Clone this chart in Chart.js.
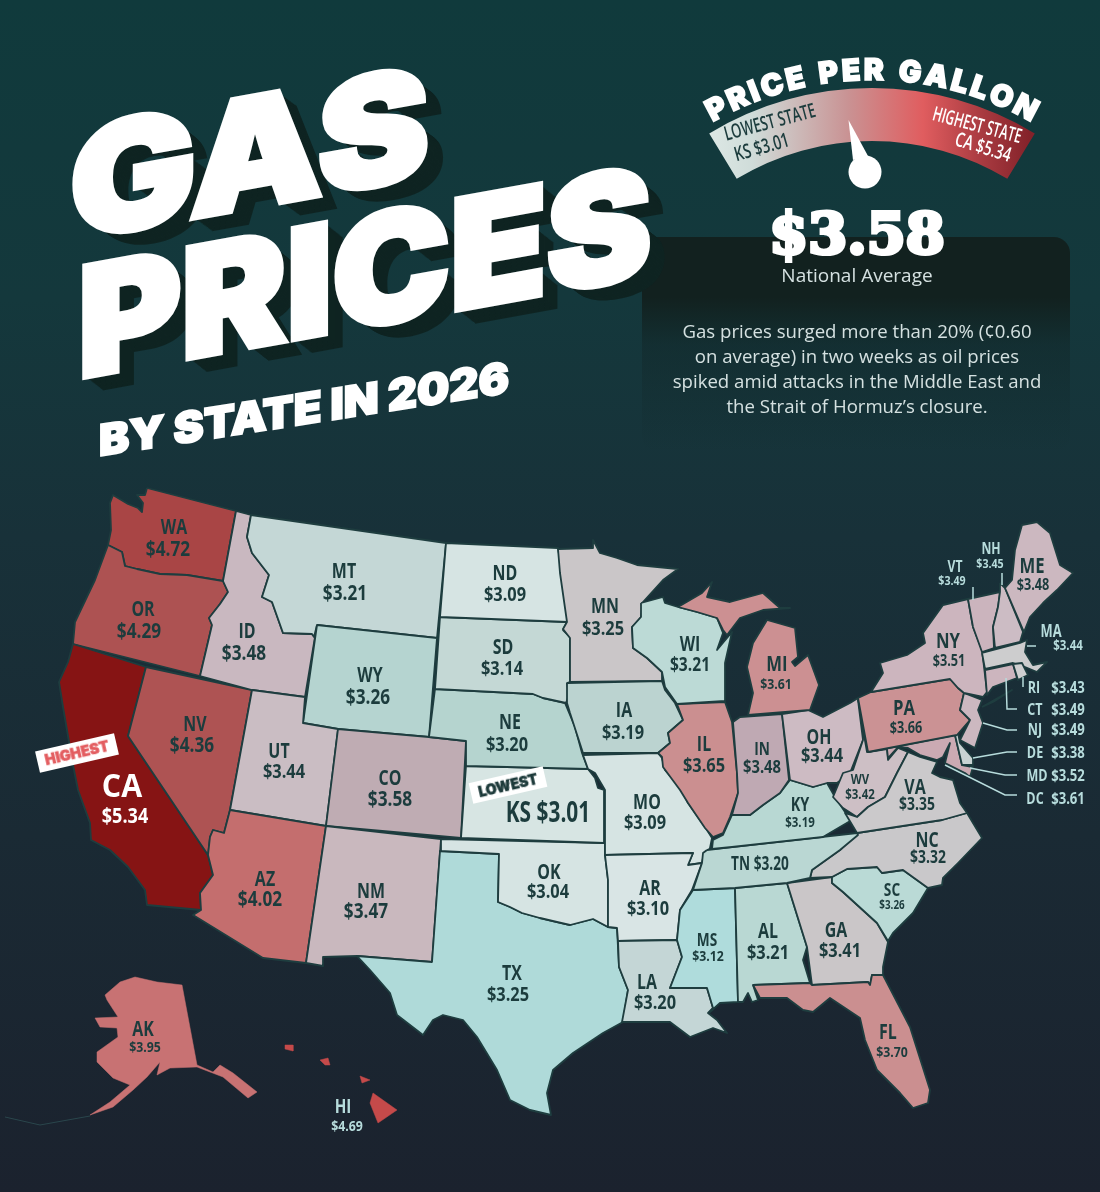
<!DOCTYPE html>
<html>
<head>
<meta charset="utf-8">
<title>Gas Prices by State in 2026</title>
<script src="https://cdn.jsdelivr.net/npm/chart.js@4"></script>
<style>
  html, body { margin: 0; padding: 0; }
  body {
    width: 1100px; height: 1192px; overflow: hidden; position: relative;
    background: linear-gradient(180deg, #103a3c 0%, #14383c 25%, #183139 45%, #1a2a34 70%, #1b222e 100%);
    font-family: "Open Sans", sans-serif;
  }
  #map { position: absolute; left: 0; top: 0; z-index: 2; }
  .box {
    position: absolute; left: 642px; top: 237px; width: 428px; height: 215px; border-radius: 16px; z-index: 0;
    background: linear-gradient(180deg, #12211f 0%, #12211f 28%, rgba(18, 40, 42, 0.55) 50%, rgba(20, 48, 52, 0) 100%);
  }
  .title {
    position: absolute; color: #fff; font-family: Inter, sans-serif; font-weight: 900; white-space: nowrap;
    line-height: 1; transform-origin: 0 50%; z-index: 3;
  }
  .avg {
    position: absolute; color: #fff; font-family: "DejaVu Serif", serif; font-weight: 700; white-space: nowrap;
    left: 857px; top: 233px; font-size: 56px; line-height: 1; z-index: 4;
    -webkit-text-stroke: 4px #fff; transform: translate(-50%, -50%);
  }
  .sub {
    position: absolute; left: 857px; color: #d5e1e1; white-space: nowrap; z-index: 4; line-height: 1;
    transform: translate(-50%, -50%);
  }
  .badge {
    position: absolute; background: #fff; text-align: center; font-family: Inter, sans-serif; font-weight: 900;
    transform: translate(-50%, -50%) rotate(-13deg); z-index: 5; white-space: nowrap;
  }
</style>
</head>
<body>
<div class="box"></div>
<div class="title" id="t1" style="left:70px;top:109px;font-size:152px">GAS</div>
<div class="title" id="t2" style="left:78px;top:247px;font-size:152px">PRICES</div>
<div class="title" id="t3" style="left:99px;top:419px;font-size:43px">BY STATE IN 2026</div>
<div class="avg">$3.58</div>
<div class="sub" style="top:275px;font-size:19px">National Average</div>
<div class="sub" style="top:331px;font-size:18.6px">Gas prices surged more than 20% (¢0.60</div>
<div class="sub" style="top:356px;font-size:18.6px">on average) in two weeks as oil prices</div>
<div class="sub" style="top:381px;font-size:18.6px">spiked amid attacks in the Middle East and</div>
<div class="sub" style="top:406px;font-size:18.6px">the Strait of Hormuz’s closure.</div>
<div class="badge" style="left:77px;top:753px;width:81px;height:22px;line-height:22px;font-size:14.5px;color:#e35d60;-webkit-text-stroke:0.5px #e35d60">HIGHEST</div>
<div class="badge" style="left:508px;top:785px;width:76px;height:21px;line-height:21px;font-size:14px;color:#1d3a3a;-webkit-text-stroke:0.5px #1d3a3a">LOWEST</div>
<canvas id="map" width="1100" height="1192"></canvas>

<script>
// categories and values
const stateCodes = ["WA","OR","CA","NV","ID","MT","WY","UT","CO","AZ","NM","TX","OK","KS","NE","SD","ND","MN","IA","MO","AR","LA","MS","AL","GA","FL","SC","NC","TN","KY","IL","IN","OH","WI","MI","WV","VA","MD","DE","PA","NJ","NY","VT","NH","ME","MA","CT","RI","AK","HI"];
const statePrices = [4.72,4.29,5.34,4.36,3.48,3.21,3.26,3.44,3.58,4.02,3.47,3.25,3.04,3.01,3.20,3.14,3.09,3.25,3.19,3.09,3.10,3.20,3.12,3.21,3.41,3.70,3.26,3.32,3.20,3.19,3.65,3.48,3.44,3.21,3.61,3.42,3.35,3.52,3.38,3.66,3.49,3.51,3.49,3.45,3.48,3.44,3.49,3.43,3.95,4.69];
const stateColors = ["#a94545","#ad5252","#861414","#ae5353","#c9b8c0","#c4d7d6","#b5d4d0","#cabdc3","#bfacb3","#c46e6e","#c9b8be","#afdad9","#d6e4e3","#d7e5e3","#b5d4cf","#c4d8d5","#d6e4e3","#cac6c8","#bbd3d0","#d6e4e3","#d9e5e5","#c4d6d6","#afdcdc","#b9d8d3","#cac6c8","#cb8f90","#badad6","#c9c8ca","#bad7d3","#b8d8d3","#cb8f90","#bfa9b3","#cdbbc3","#bcdad6","#cc9092","#cdbfc5","#cbc9cb","#cbaab3","#c9d3d3","#cb9294","#ccb8c0","#ccb5be","#cbb4bd","#ccbcc4","#ccb8c0","#cdcdce","#ccb5be","#cfcfd0","#c87273","#c54a4a"];

// state outlines, on the map's x/y axes
const WA = [[[147,488],[236,511],[223,581],[187,575],[160,574],[137,569],[125,566],[122,552],[108,545],[111,530],[110,503],[113,495],[128,504],[138,508],[142,512],[143,503],[137,495],[145,495]]];
const OR = [[[108,545],[122,552],[125,566],[137,569],[160,574],[187,575],[223,581],[228,592],[220,604],[209,618],[212,625],[200,676],[73,644],[75,622],[95,580]]];
const CA = [[[73,644],[146,667],[128,736],[208,855],[213,875],[200,893],[201,910],[147,905],[145,890],[128,867],[110,850],[91,840],[90,823],[78,790],[73,765],[63,707],[59,682],[68,662]]];
const NV = [[[146,667],[252,690],[230,810],[224,833],[213,830],[210,837],[208,855],[128,736]]];
const ID = [[[236,511],[251,515],[247,537],[252,553],[269,575],[262,597],[272,602],[283,633],[312,634],[315,637],[305,697],[252,690],[200,676],[212,625],[209,618],[220,604],[228,592],[223,581]]];
const MT = [[[251,515],[446,543],[437,638],[317,625],[314,637],[312,634],[283,633],[272,602],[262,597],[269,575],[252,553],[247,537]]];
const WY = [[[317,625],[437,638],[429,737],[338,729],[303,723]]];
const UT = [[[252,690],[305,697],[303,723],[338,729],[326,826],[230,810]]];
const CO = [[[338,729],[429,737],[466,741],[461,838],[326,826]]];
const AZ = [[[230,810],[326,826],[306,963],[263,958],[193,915],[201,910],[200,893],[213,875],[208,855],[210,837],[213,830],[224,833]]];
const NM = [[[326,826],[441,839],[432,962],[357,956],[323,957],[323,966],[306,963]]];
const TX = [[[440,851],[499,854],[498,902],[510,907],[522,913],[540,918],[557,922],[570,925],[593,919],[608,927],[617,928],[619,967],[628,990],[623,1022],[603,1033],[573,1053],[553,1070],[547,1093],[551,1115],[530,1110],[510,1100],[497,1070],[477,1037],[463,1020],[443,1015],[433,1020],[423,1035],[397,1015],[390,993],[370,970],[357,956],[432,962]]];
const OK = [[[441,839],[605,843],[605,855],[608,880],[608,927],[593,919],[570,925],[557,922],[540,918],[522,913],[510,907],[498,902],[499,854],[440,851]]];
const KS = [[[466,766],[588,769],[595,778],[598,788],[604,790],[604,843],[461,838]]];
const NE = [[[435,689],[533,694],[543,698],[565,703],[575,727],[582,753],[588,769],[466,766],[466,741],[429,737]]];
const SD = [[[440,617],[567,622],[563,630],[570,637],[570,682],[567,683],[569,695],[566,703],[543,698],[533,694],[435,689]]];
const ND = [[[446,543],[558,548],[563,580],[568,622],[440,617]]];
const MN = [[[558,549],[593,548],[593,540],[600,553],[617,558],[637,565],[678,569],[663,580],[643,602],[641,617],[632,627],[633,648],[647,658],[662,672],[662,681],[570,682],[570,638],[563,629],[567,622],[560,573]]];
const IA = [[[567,683],[662,681],[665,690],[675,703],[683,720],[668,733],[670,743],[658,753],[583,753],[570,713],[567,703]]];
const MO = [[[583,755],[658,753],[662,758],[665,770],[682,790],[688,803],[707,830],[712,838],[710,848],[703,858],[702,863],[688,865],[693,853],[605,855],[605,790],[595,773],[588,769]]];
const AR = [[[605,855],[693,853],[688,865],[702,863],[692,890],[680,910],[677,940],[618,941],[617,928],[608,927],[608,880]]];
const LA = [[[618,941],[677,940],[682,957],[670,988],[707,988],[713,1008],[708,1013],[717,1020],[727,1033],[713,1028],[690,1037],[670,1022],[640,1022],[622,1022],[628,990],[619,967]]];
const MS = [[[693,890],[735,888],[738,1002],[720,1003],[710,1012],[713,1008],[707,988],[670,988],[682,957],[677,940],[680,910]]];
const AL = [[[735,888],[787,883],[807,947],[803,960],[810,983],[753,985],[758,1000],[752,1002],[748,993],[743,1002],[738,1002]]];
const GA = [[[787,883],[832,877],[832,883],[843,892],[877,923],[888,942],[883,967],[883,975],[872,975],[870,985],[868,982],[812,985],[807,947]]];
const FL = [[[753,985],[810,983],[812,985],[868,982],[870,985],[872,975],[883,975],[910,1027],[930,1090],[928,1103],[913,1108],[900,1093],[877,1070],[865,1040],[860,1018],[830,998],[813,1012],[803,1010],[787,998],[760,998]]];
const SC = [[[832,877],[847,869],[877,867],[882,873],[903,870],[928,888],[913,913],[893,933],[888,941],[877,923],[843,892],[832,883]]];
const NC = [[[857,833],[942,820],[967,813],[982,838],[958,863],[943,878],[942,885],[928,888],[903,870],[882,873],[877,867],[847,869],[832,877],[810,878],[812,870],[840,850]]];
const TN = [[[707,850],[732,847],[857,833],[858,835],[840,850],[812,870],[810,878],[787,883],[735,888],[693,890],[702,863],[703,853]]];
const KY = [[[712,849],[713,840],[723,835],[732,815],[750,815],[763,805],[780,793],[790,780],[813,787],[827,783],[835,797],[845,812],[857,817],[823,837],[732,847]]];
const IL = [[[677,704],[725,702],[732,722],[737,773],[738,793],[730,817],[723,833],[713,837],[705,828],[688,803],[680,790],[663,767],[662,757],[658,753],[670,743],[668,733],[683,720]]];
const IN = [[[733,722],[740,717],[782,714],[789,780],[780,793],[763,805],[750,815],[732,815],[738,793],[737,773]]];
const OH = [[[782,714],[808,710],[823,717],[850,703],[858,698],[867,752],[863,740],[850,773],[837,783],[827,783],[813,787],[790,780]]];
const WI = [[[641,603],[663,597],[665,603],[678,607],[697,612],[717,618],[723,633],[717,650],[732,632],[725,663],[725,701],[677,704],[665,687],[662,672],[647,658],[633,648],[632,627],[641,617]]];
const MI = [[[678,607],[702,593],[712,582],[707,597],[730,602],[763,593],[780,608],[790,608],[763,610],[740,618],[727,635],[723,630],[717,618],[697,612]],[[748,715],[753,693],[747,667],[753,643],[767,620],[795,628],[798,657],[792,662],[795,666],[808,655],[819,685],[810,710]]];
const WV = [[[858,700],[867,752],[887,748],[888,760],[898,748],[908,752],[897,773],[885,797],[868,807],[857,817],[843,808],[833,797],[843,773],[853,770],[863,740]]];
const VA = [[[908,752],[920,757],[937,762],[932,773],[940,777],[953,780],[960,803],[967,813],[942,820],[857,833],[845,813],[857,817],[868,807],[885,797],[897,773]]];
const MD = [[[868,752],[955,735],[962,765],[973,767],[970,777],[965,773],[953,767],[945,763],[950,743],[943,757],[937,760],[920,755],[908,748],[898,747],[888,758],[887,749]]];
const DE = [[[955,735],[958,733],[960,743],[973,758],[973,765],[962,765]]];
const PA = [[[858,698],[871,692],[950,679],[958,688],[964,693],[960,710],[970,720],[957,735],[868,752]]];
const NJ = [[[964,693],[982,700],[978,710],[983,723],[975,748],[960,740],[970,720],[960,710]]];
const NY = [[[871,692],[883,673],[880,663],[907,655],[925,643],[923,633],[943,605],[968,599],[973,627],[982,650],[987,692],[983,697],[964,693],[958,688],[950,679]],[[982,707],[1012,690],[993,702]]];
const VT = [[[968,599],[1000,592],[998,607],[993,627],[994,648],[982,652],[973,627]]];
const NH = [[[1000,583],[1005,588],[1023,632],[1020,642],[995,648],[993,627],[998,607],[1000,592]]];
const ME = [[[1005,588],[1012,580],[1015,550],[1022,525],[1037,522],[1050,533],[1060,565],[1073,573],[1057,590],[1043,603],[1030,617],[1024,632]]];
const MA = [[[982,653],[1020,643],[1027,640],[1025,652],[1033,665],[1047,662],[1037,672],[1025,667],[1013,663],[985,669]]];
const CT = [[[985,670],[1013,664],[1017,678],[993,687],[987,695]]];
const RI = [[[1013,664],[1022,663],[1028,675],[1018,680]]];
const AK = [[[105,995],[120,982],[135,977],[157,982],[182,985],[197,1065],[213,1072],[220,1065],[233,1073],[257,1092],[248,1098],[223,1077],[197,1067],[170,1068],[157,1075],[160,1062],[147,1077],[133,1090],[113,1107],[90,1115],[110,1102],[130,1085],[113,1078],[97,1062],[97,1052],[118,1037],[117,1028],[100,1027],[95,1018],[118,1017],[107,1000]]];
const HI = [[[373,1093],[397,1110],[378,1123],[370,1103]],[[360,1076],[370,1080],[362,1083]],[[285,1045],[293,1045],[293,1051],[285,1049]],[[320,1060],[328,1058],[330,1065],[325,1065]]];
const stateShapes = {WA,OR,CA,NV,ID,MT,WY,UT,CO,AZ,NM,TX,OK,KS,NE,SD,ND,MN,IA,MO,AR,LA,MS,AL,GA,FL,SC,NC,TN,KY,IL,IN,OH,WI,MI,WV,VA,MD,DE,PA,NJ,NY,VT,NH,ME,MA,CT,RI,AK,HI};
const aleutians = [[5,1117],[40,1125],[90,1116]];

// label layout: code x, code y, price x, price y, code size, price size, colour
const dark = "#1c3c3d", pale = "#b7dcdc";
const labelSpots = {
  WA:[174,528,168,550,21,21], OR:[143,610,139,632,21,21], ID:[247,632,244,654,21,21], MT:[344,572,345,594,21,21],
  WY:[370,676,368,698,21,21], ND:[505,574,505,595,21,20], SD:[503,648,502,669,21,20], NE:[510,723,507,745,21,20],
  UT:[279,752,284,772,21,20], CO:[390,779,390,800,21,21], NV:[195,725,192,746,21,21], CA:[122,788,125,817,32,22,"#fff"],
  AZ:[265,880,260,900,21,21], NM:[371,892,366,912,21,21], OK:[549,873,548,892,21,20], TX:[512,974,508,995,21,20],
  MN:[605,607,603,629,21,20], IA:[624,711,623,733,21,20], MO:[647,803,645,823,21,20], AR:[650,889,648,909,21,20],
  LA:[647,983,655,1003,21,20], WI:[690,645,690,666,21,19], MI:[777,665,776,685,22,15], IL:[704,745,704,766,21,20],
  IN:[762,750,762,768,18,18], OH:[819,738,822,756,21,20], KY:[800,806,800,823,19,14], MS:[707,941,708,957,18,15],
  AL:[768,932,768,953,21,20], GA:[836,931,840,951,21,20], SC:[892,891,892,906,18,12], FL:[888,1033,892,1053,21,15],
  NC:[927,841,928,858,21,17], VA:[915,788,917,805,21,17], WV:[860,780,860,795,15,14], PA:[904,709,906,729,22,15.5],
  NY:[948,642,949,662,22,15.5], ME:[1032,567,1033,586,22,15.5], NH:[991,549,990,564,16,13,pale], VT:[955,567,952,581,16,13,pale],
  MA:[1051,632,1068,646,17,14,pale], RI:[1034,688,1068,688,16.5,16,pale], CT:[1035,710,1068,710,16.5,16,pale],
  NJ:[1035,730,1068,730,16.5,16,pale], DE:[1035,753,1068,753,16.5,16,pale], MD:[1037,776,1068,776,16.5,16,pale],
  DC:[1035,799,1068,799,16.5,16,pale], AK:[143,1030,145,1048,21,15], HI:[343,1107,347,1127,20,15,pale]
};
// these two print code and price on one line
const oneLineLabels = { KS:[548,814,29], TN:[760,865,19] };
const dcPrice = 3.61;

const leaderLines = [
  [[1027,646],[1036,646]],
  [[1023,677],[1023,687]],
  [[1006,678],[1007,709],[1017,709]],
  [[983,723],[1007,730],[1017,730]],
  [[973,758],[1007,752],[1017,752]],
  [[970,768],[1005,775],[1017,775]],
  [[945,765],[1005,795],[1017,795]],
  [[1002,573],[1002,585]],
  [[973,587],[973,600]]
];

function priceText(p) {
  return "$" + p.toFixed(2);
}

function drawNarrow(ctx, text, x, y, size, color, rot, weight, squeeze) {
  ctx.save();
  ctx.translate(x, y);
  if (rot) ctx.rotate(rot * Math.PI / 180);
  ctx.scale(squeeze || 0.76, 1);
  ctx.font = (weight || 700) + " " + size + "px 'Open Sans'";
  ctx.fillStyle = color;
  ctx.textAlign = "center";
  ctx.textBaseline = "middle";
  ctx.fillText(text, 0, 0);
  ctx.restore();
}

// gauge, price labels
const gaugePlugin = {
  id: "gaugeAndLabels",
  afterDatasetsDraw(chart) {
    const ctx = chart.ctx;
    const px = v => chart.scales.x.getPixelForValue(v);
    const py = v => chart.scales.y.getPixelForValue(v);

    // gauge band
    const cx = px(872), cy = py(402);
    const grad = ctx.createLinearGradient(px(715), 0, px(1030), 0);
    grad.addColorStop(0, "#dbe6e3");
    grad.addColorStop(0.12, "#cfdcd9");
    grad.addColorStop(0.42, "#c99394");
    grad.addColorStop(0.66, "#e05d5f");
    grad.addColorStop(0.85, "#a83a40");
    grad.addColorStop(1, "#84222a");
    ctx.save();
    ctx.beginPath();
    ctx.arc(cx, cy, 314, -Math.PI / 2 - 0.545, -Math.PI / 2 + 0.545);
    ctx.arc(cx, cy, 261, -Math.PI / 2 + 0.545, -Math.PI / 2 - 0.545, true);
    ctx.closePath();
    ctx.fillStyle = grad;
    ctx.fill();
    // needle
    ctx.fillStyle = "#fff";
    ctx.beginPath();
    ctx.arc(px(865), py(172), 16.5, 0, Math.PI * 2);
    ctx.fill();
    ctx.beginPath();
    ctx.moveTo(px(848.5), py(120));
    ctx.lineTo(px(853), py(160));
    ctx.lineTo(px(868), py(156));
    ctx.closePath();
    ctx.fill();
    ctx.restore();

    drawNarrow(ctx, "LOWEST STATE", px(770), py(123), 20, dark, -15, 600, 0.66);
    drawNarrow(ctx, "KS $3.01", px(762), py(148), 20, dark, -16, 600, 0.7);
    drawNarrow(ctx, "HIGHEST STATE", px(977), py(126), 20, "#fff", 15, 600, 0.62);
    drawNarrow(ctx, "CA $5.34", px(983), py(148), 20, "#fff", 17, 600, 0.7);

    // curved heading
    const heading = "PRICE PER GALLON";
    ctx.save();
    ctx.font = "900 30px Inter";
    ctx.fillStyle = "#fff";
    ctx.strokeStyle = "#fff";
    ctx.lineWidth = 1.6;
    ctx.textAlign = "center";
    ctx.textBaseline = "alphabetic";
    const chars = [...heading];
    const widths = chars.map(c => c == " " ? 11 : ctx.measureText(c).width + 3);
    const total = widths.reduce((a, b) => a + b, 0);
    const radius = 322;
    const span = 1.045;
    const k = span * radius / total;
    let run = -span * radius / 2;
    chars.forEach((c, i) => {
      const ang = (run + widths[i] * k / 2) / radius;
      ctx.save();
      ctx.translate(cx + radius * Math.sin(ang), cy - radius * Math.cos(ang));
      ctx.rotate(ang);
      ctx.fillText(c, 0, 0);
      ctx.strokeText(c, 0, 0);
      ctx.restore();
      run += widths[i] * k;
    });
    ctx.restore();

    // state labels
    stateCodes.forEach((code, i) => {
      const spot = labelSpots[code];
      if (oneLineLabels[code]) {
        const one = oneLineLabels[code];
        drawNarrow(ctx, code + " " + priceText(statePrices[i]), px(one[0]), py(one[1]), one[2], dark, 0, 700, 0.72);
      }
      if (!spot) return;
      const color = spot[6] || dark;
      drawNarrow(ctx, code, px(spot[0]), py(spot[1]), spot[4], color, 0, 700, code == "CA" ? 0.95 : 0.76);
      drawNarrow(ctx, priceText(statePrices[i]), px(spot[2]), py(spot[3]), spot[5], color, 0, 700, 0.82);
    });
    const dc = labelSpots.DC;
    drawNarrow(ctx, "DC", px(dc[0]), py(dc[1]), dc[4], dc[6]);
    drawNarrow(ctx, priceText(dcPrice), px(dc[2]), py(dc[3]), dc[5], dc[6], 0, 700, 0.82);
  }
};

function buildDatasets() {
  const sets = [];
  stateCodes.forEach((code, i) => {
    stateShapes[code].forEach(ring => {
      const pts = ring.concat([ring[0]]).map(p => ({ x: p[0], y: p[1] }));
      sets.push({
        label: code,
        data: pts,
        showLine: true,
        fill: "shape",
        tension: 0,
        backgroundColor: stateColors[i],
        borderColor: code == "AK" || code == "HI" ? stateColors[i] : "#1e3d3f",
        borderWidth: code == "AK" || code == "HI" ? 0.5 : 1.8,
        pointRadius: 0,
        borderJoinStyle: "round"
      });
    });
  });
  leaderLines.forEach(line => {
    sets.push({
      label: "leader",
      data: line.map(p => ({ x: p[0], y: p[1] })),
      showLine: true,
      fill: false,
      tension: 0,
      borderColor: pale,
      borderWidth: 1.5,
      pointRadius: 0
    });
  });
  sets.push({
    label: "islands",
    data: aleutians.map(p => ({ x: p[0], y: p[1] })),
    showLine: true,
    fill: false,
    tension: 0,
    borderColor: "#2a464c",
    borderWidth: 1,
    pointRadius: 0
  });
  // chart.js paints the last dataset first, so flip to keep leader lines on top
  return sets.reverse();
}

new Chart(document.getElementById("map"), {
  type: "scatter",
  data: { datasets: buildDatasets() },
  options: {
    responsive: false,
    animation: false,
    devicePixelRatio: 1,
    layout: { padding: 0 },
    plugins: { legend: { display: false }, tooltip: { enabled: false }, title: { display: false } },
    scales: {
      x: { type: "linear", display: false, min: 0, max: 1100 },
      y: { type: "linear", display: false, min: 0, max: 1192, reverse: true }
    }
  },
  plugins: [gaugePlugin]
});

// big lettering, skewed with a stepped dark extrusion
function extrude(id, depth, kx, skew, stroke) {
  const el = document.getElementById(id);
  let shadow = [];
  for (let d = 1; d <= depth; d++) shadow.push(d + "px " + d + "px 0 #0f2422");
  if (depth) el.style.textShadow = shadow.join(",");
  el.style.webkitTextStroke = stroke + "px #fff";
  el.style.transform = "skewY(" + skew + "deg) scaleX(" + kx + ")";
}
extrude("t1", 17, 1.1, -10.2, 6);
extrude("t2", 17, 1.036, -10.2, 6);
extrude("t3", 0, 1.055, -8.8, 2);
</script>
</body>
</html>
